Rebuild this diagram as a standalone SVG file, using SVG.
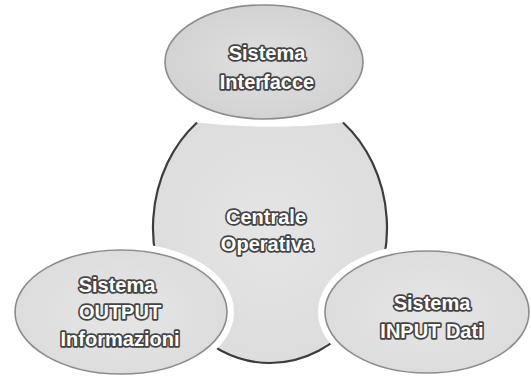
<svg xmlns="http://www.w3.org/2000/svg" width="531" height="376" viewBox="0 0 531 376">
  <defs>
    <radialGradient id="gTop" cx="0.5" cy="0.5" r="0.6">
      <stop offset="0" stop-color="#e0e0e0"/>
      <stop offset="1" stop-color="#d0d0d0"/>
    </radialGradient>
    <radialGradient id="gSide" cx="0.5" cy="0.5" r="0.6">
      <stop offset="0" stop-color="#e6e6e6"/>
      <stop offset="1" stop-color="#dbdbdb"/>
    </radialGradient>
    <radialGradient id="gCenter" cx="0.5" cy="0.45" r="0.6">
      <stop offset="0" stop-color="#e5e5e5"/>
      <stop offset="1" stop-color="#dcdcdc"/>
    </radialGradient>
  </defs>
  <style>
    .gap { fill: none; stroke: #ffffff; stroke-width: 14; }
    .outer { stroke: #8c8c8c; stroke-width: 1.6; }
    .coreFill { fill: url(#gCenter); stroke: none; }
    .coreLine { fill: none; stroke: #3c3c3c; stroke-width: 2.2; }
    .lbl { font-family: "Liberation Sans", Arial, sans-serif; font-weight: bold; font-size: 20px; fill: #ffffff; stroke: #444444; stroke-width: 3.4; stroke-linejoin: round; paint-order: stroke; text-anchor: middle; }
  </style>
  <rect width="531" height="376" fill="#ffffff"/>
  <g id="centrale">
    <path class="coreFill" d="M197,122.5 A117,135 0 1 0 343,122.5 Q270,131 197,122.5 Z"/>
    <path class="coreLine" d="M197,122.5 A117,135 0 1 0 343,122.5"/>
  </g>
  <g id="connectors"></g>
  <g id="interfacce">
    <ellipse class="gap" cx="264" cy="62" rx="99" ry="57"/>
    <ellipse class="outer" cx="264" cy="62" rx="99" ry="57" fill="url(#gTop)"/>
    <text class="lbl" x="267" y="60">Sistema</text>
    <text class="lbl" x="267" y="89">Interfacce</text>
  </g>
  <g id="output">
    <ellipse class="gap" cx="121" cy="312" rx="106" ry="62"/>
    <ellipse class="outer" cx="121" cy="312" rx="106" ry="62" fill="url(#gSide)"/>
    <text class="lbl" x="117" y="292">Sistema</text>
    <text class="lbl" x="120" y="319">OUTPUT</text>
    <text class="lbl" x="120" y="346">Informazioni</text>
  </g>
  <g id="input">
    <ellipse class="gap" cx="427" cy="312" rx="102" ry="61"/>
    <ellipse class="outer" cx="427" cy="312" rx="102" ry="61" fill="url(#gSide)"/>
    <text class="lbl" x="432" y="310">Sistema</text>
    <text class="lbl" x="432" y="338">INPUT Dati</text>
  </g>
  <g id="centrale-label">
    <text class="lbl" x="266" y="224">Centrale</text>
    <text class="lbl" x="267" y="251">Operativa</text>
  </g>
</svg>
